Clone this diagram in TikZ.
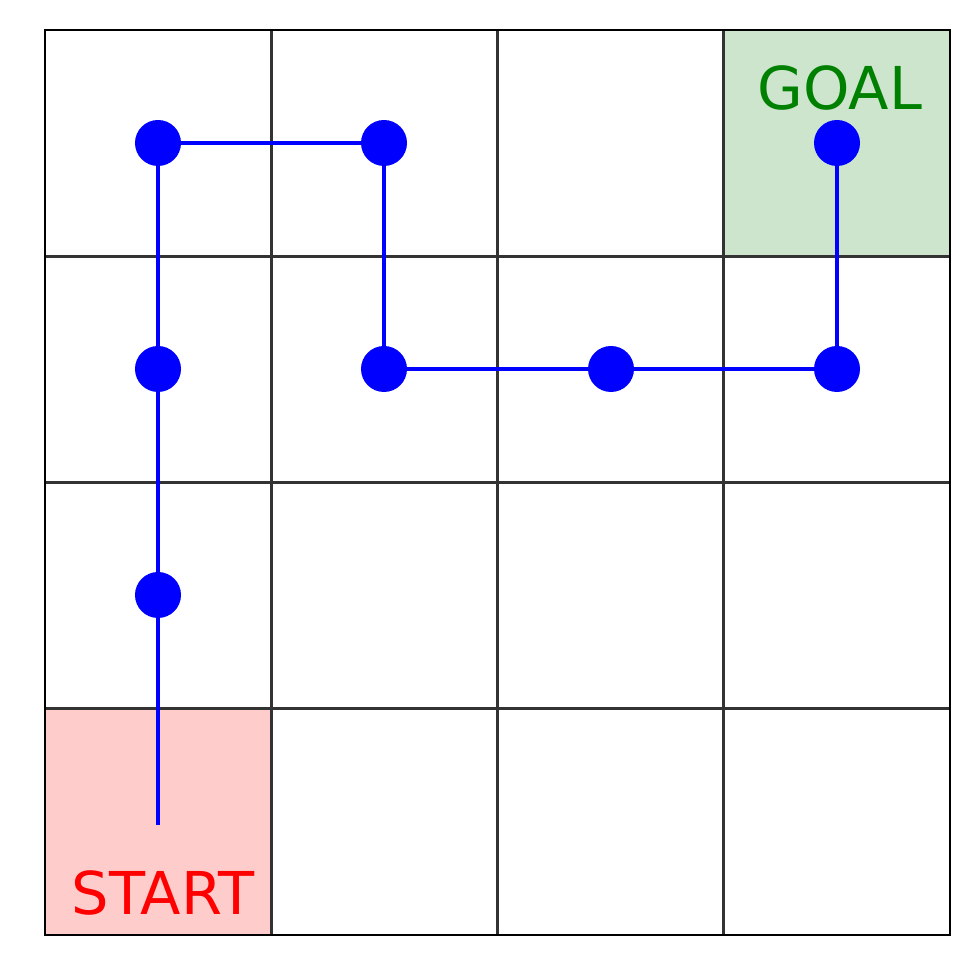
\documentclass[tikz,border=0pt]{standalone}
\usepackage{fontspec}
\setmainfont{DejaVu Sans}
\definecolor{startred}{RGB}{255,204,204}
\definecolor{goalgreen}{RGB}{204,229,204}
\definecolor{goaltext}{RGB}{0,128,0}
\begin{document}
\begin{tikzpicture}
[x=0.025cm,y=0.025cm,
cell/.style={draw=black!80,line width=2pt},
dot/.style={circle,fill=blue,inner sep=0pt,minimum size=1.15cm},
path/.style={draw=blue,line width=2.8pt},
label/.style={font=\fontsize{42}{42}\selectfont}]
\useasboundingbox (0,0) rectangle (980,980);
\fill[startred] (45,45) rectangle (271.25,271.25);
\fill[goalgreen] (723.75,723.75) rectangle (950,950);
\foreach \i in {1,2,3} {
  \draw[cell] (45+226.25*\i,45) -- (45+226.25*\i,950);
  \draw[cell] (45,45+226.25*\i) -- (950,45+226.25*\i);
}
\draw[line width=2pt] (45,45) rectangle (950,950);
% path
\coordinate (s) at (158,155);
\node[dot] (a) at (158,385) {};
\node[dot] (b) at (158,611) {};
\node[dot] (c) at (158,837) {};
\node[dot] (d) at (384,837) {};
\node[dot] (e) at (384,611) {};
\node[dot] (f) at (611,611) {};
\node[dot] (g) at (837,611) {};
\node[dot] (h) at (837,837) {};
\draw[path] (s) -- (a.center) -- (b.center) -- (c.center) -- (d.center)
  -- (e.center) -- (f.center) -- (g.center) -- (h.center);
\node[label,text=red] (start) at (163,87) {START};
\node[label,text=goaltext] (goal) at (840,892) {GOAL};
\end{tikzpicture}
\end{document}
